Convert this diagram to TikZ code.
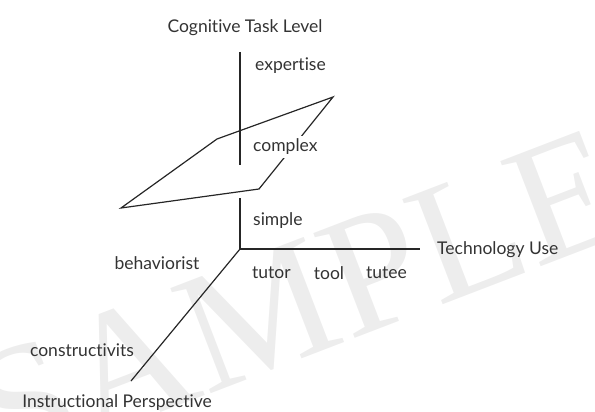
\documentclass[tikz,border=0pt]{standalone}
\usepackage{fontspec}
\setmainfont{Lato}[Ligatures=NoCommon]
\newfontfamily\wmfont{Liberation Serif}
\begin{document}
\begin{tikzpicture}[x=1pt,y=-1pt,
  lbl/.style={font=\fontsize{17.5}{20}\selectfont, text=black!80, inner sep=0pt},
  ax/.style={line width=1.2pt, draw=black!85},
  plane/.style={line width=1.2pt, draw=black!85, line join=miter}]
\useasboundingbox (0,0) rectangle (595,412);
% watermark
\node[rotate=21, text=black!7, font=\wmfont\fontsize{172}{172}\selectfont, inner sep=0pt] (wm) at (298,300) {SAMPLE};
% axes
\coordinate (o) at (240,249);
\coordinate (ztop) at (240,52);
\coordinate (zbreak) at (240,165);
\coordinate (zresume) at (240,198);
\coordinate (xend) at (420,249);
\coordinate (yend) at (131,381);
\draw[ax] (ztop) -- (zbreak);
\draw[ax] (zresume) -- (o);
\draw[ax] (o) -- (xend);
\draw[ax] (o) -- (yend);
% plane
\coordinate (p1) at (333,97);
\coordinate (p2) at (217,139);
\coordinate (p3) at (121,208);
\coordinate (p4) at (259,189);
\draw[plane] (p1) -- (p2) -- (p3) -- (p4) -- cycle;
% labels
\node[lbl] (title) at (245,28) {Cognitive Task Level};
\node[lbl, anchor=west] (expertise) at (255,66) {expertise};
\node[lbl, anchor=west, fill=white, inner sep=3pt] (complex) at (250,147) {complex};
\node[lbl, anchor=west] (simple) at (253,221) {simple};
\node[lbl, anchor=west] (tech) at (437,250) {Technology Use};
\node[lbl, anchor=west] (tutor) at (252,273) {tutor};
\node[lbl] (tool) at (329,273) {tool};
\node[lbl, anchor=east] (tutee) at (407,273) {tutee};
\node[lbl] (behav) at (157,263) {behaviorist};
\node[lbl] (constr) at (82,350) {constructivits};
\node[lbl] (instr) at (117,403) {Instructional Perspective};
\end{tikzpicture}
\end{document}
